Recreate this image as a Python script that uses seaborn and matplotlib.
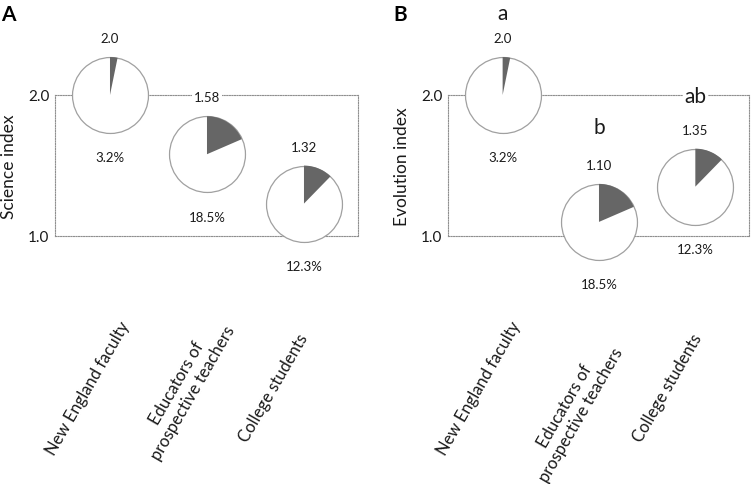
import numpy as np
import matplotlib.pyplot as plt
import seaborn as sns

# data
groups = ["New England faculty", "Educators of\nprospective teachers", "College students"]
pct_accept = [3.2, 18.5, 12.3]
science_labels = ["2.0", "1.58", "1.32"]
science_index = [2.0, 1.58, 1.23]   # where the pies sit in the original figure
evolution_labels = ["2.0", "1.10", "1.35"]
evolution_index = [2.0, 1.10, 1.35]
evolution_letters = ["a", "b", "ab"]

PIE_S = 2990          # marker area (pt^2) -> ~76 px diameter
TXT = "#1a1a1a"


def wedge_marker(frac):
    # wedge starting at 12 o'clock, going clockwise
    n = max(3, int(120 * frac) + 2)
    theta = np.linspace(np.pi / 2, np.pi / 2 - 2 * np.pi * frac, n)
    arc = np.column_stack([np.cos(theta), np.sin(theta)])
    return np.vstack([[0, 0], arc, [0, 0]])


def draw_panel(ax, ypos, vlabels, ylabel, name_offsets, letters=None, letter_dy=None):
    x = np.arange(len(groups))
    sns.scatterplot(x=x, y=ypos, s=PIE_S, marker="o", color="white",
                    edgecolor="#a0a0a0", linewidth=0.9, clip_on=False,
                    zorder=3, ax=ax, legend=False)
    box = dict(facecolor="white", edgecolor="none", pad=1)
    for i, (y, p) in enumerate(zip(ypos, pct_accept)):
        sns.scatterplot(x=[i], y=[y], s=PIE_S, marker=wedge_marker(p / 100),
                        color="#666666", edgecolor="none", linewidth=0,
                        clip_on=False, zorder=4, ax=ax, legend=False)
        ax.annotate(vlabels[i], xy=(i, y), xytext=(0, 41), textcoords="offset points",
                    ha="center", va="center", fontsize=9.5, color=TXT, bbox=box,
                    zorder=5, annotation_clip=False)
        ax.annotate(f"{p:.1f}%", xy=(i, y), xytext=(0, -45), textcoords="offset points",
                    ha="center", va="center", fontsize=9.5, color=TXT,
                    zorder=5, annotation_clip=False)
        if letters:
            ax.annotate(letters[i], xy=(i, y), xytext=(0, letter_dy[i]),
                        textcoords="offset points", ha="center", va="baseline",
                        fontsize=15, color=TXT, bbox=box,
                        zorder=5, annotation_clip=False)
        dx, dy = name_offsets[i]
        ax.annotate(groups[i], xy=(i, 0), xycoords=("data", "axes fraction"),
                    xytext=(dx, dy), textcoords="offset points", rotation=60,
                    ha="center", va="center", multialignment="center",
                    fontsize=12, color=TXT, annotation_clip=False)

    ax.set_xlim(-0.567, 2.557)
    ax.set_ylim(1.0, 2.0)
    ax.set_xticks([])
    ax.set_yticks([1.0, 2.0])
    ax.set_yticklabels(["1.0", "2.0"])
    ax.tick_params(axis="y", length=0, pad=4, labelsize=11, labelcolor=TXT)
    ax.set_ylabel(ylabel, fontsize=12.5, color=TXT, labelpad=8)
    ax.set_xlabel("")
    for sp in ax.spines.values():
        sp.set_visible(True)
        sp.set_linestyle((0, (1, 1.3)))
        sp.set_color("#8f8f8f")
        sp.set_linewidth(0.8)


sns.set_style("white")
plt.rcParams["font.family"] = ["Lato", "DejaVu Sans"]

fig = plt.figure(figsize=(7.51, 4.85), dpi=100)
ax_a = fig.add_axes([55 / 751, 1 - 237 / 485, 303 / 751, 141 / 485])
ax_b = fig.add_axes([448 / 751, 1 - 237 / 485, 301 / 751, 141 / 485])

draw_panel(ax_a, science_index, science_labels, "Science index",
           [(-16, -109), (-16, -109), (-22, -109)])
draw_panel(ax_b, evolution_index, evolution_labels, "Evolution index",
           [(-17, -109), (-19, -125), (-20, -109)],
           letters=evolution_letters, letter_dy=[55, 64, 61])

fig.text(0.002, 0.99, "A", fontsize=15, fontweight="bold", va="top", ha="left", color="black")
fig.text(0.524, 0.99, "B", fontsize=15, fontweight="bold", va="top", ha="left", color="black")

plt.savefig("out.png", dpi=100)
